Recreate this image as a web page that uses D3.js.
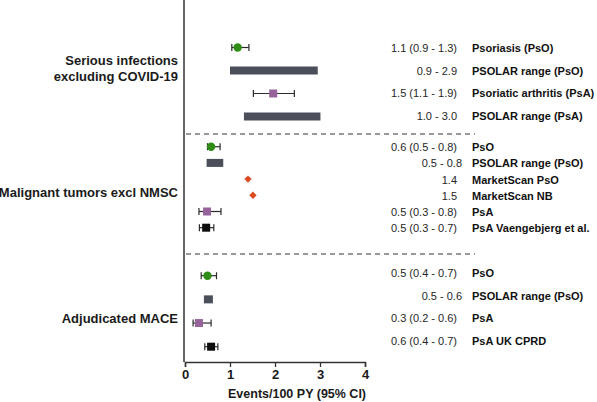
<!DOCTYPE html>
<html>
<head>
<meta charset="utf-8">
<script src="https://cdn.jsdelivr.net/npm/d3@7"></script>
<style>
  html, body { margin: 0; padding: 0; background: #fff; }
  svg { display: block; }
  text { font-family: "Liberation Sans", Arial, Helvetica, sans-serif; }
</style>
</head>
<body>
<svg id="chart" width="597" height="402"></svg>
<script>
// ---- data ----
const groupNames = [["Serious infections", "excluding COVID-19"], ["Malignant tumors excl NMSC"], ["Adjudicated MACE"]];
const rowGroup = [0, 0, 0, 0, 1, 1, 1, 1, 1, 1, 2, 2, 2, 2];
const rowLabels = [
  "Psoriasis (PsO)", "PSOLAR range (PsO)", "Psoriatic arthritis (PsA)", "PSOLAR range (PsA)",
  "PsO", "PSOLAR range (PsO)", "MarketScan PsO", "MarketScan NB", "PsA", "PsA Vaengebjerg et al.",
  "PsO", "PSOLAR range (PsO)", "PsA", "PsA UK CPRD"
];
const rowValueText = [
  "1.1 (0.9 - 1.3)", "0.9 - 2.9", "1.5 (1.1 - 1.9)", "1.0 - 3.0",
  "0.6 (0.5 - 0.8)", "0.5 - 0.8", "1.4", "1.5", "0.5 (0.3 - 0.8)", "0.5 (0.3 - 0.7)",
  "0.5 (0.4 - 0.7)", "0.5 - 0.6", "0.3 (0.2 - 0.6)", "0.6 (0.4 - 0.7)"
];
const rowType = [
  "circle", "range", "square", "range",
  "circle", "range", "diamond", "diamond", "square", "blackSquare",
  "circle", "range", "square", "blackSquare"
];
const estimate = [1.17, null, 1.96, null, 0.58, null, 1.4, 1.51, 0.49, 0.47, 0.5, null, 0.31, 0.58];
const lower    = [1.04, 1.0, 1.52, 1.31, 0.5, 0.48, null, null, 0.31, 0.32, 0.36, 0.42, 0.18, 0.44];
const upper    = [1.42, 2.95, 2.43, 3.01, 0.78, 0.85, null, null, 0.8, 0.64, 0.7, 0.62, 0.58, 0.73];
const xTicks = [0, 1, 2, 3, 4];
const xTitle = "Events/100 PY (95% CI)";

// ---- layout ----
const svg = d3.select("#chart");
const axisX = 184, axisBottom = 362;
const x = d3.scaleLinear().domain([0, 4]).range([185, 365]);
const markRanges = [[47.5, 116.5], [146.7, 227.7], [275.7, 346.7]];
const textRanges = [[48.3, 116], [147.3, 228.3], [273.3, 341]];
const separators = [134, 254];
const groupLabelY = [[60.7, 76], [192], [318.7]];

const rows = rowLabels.map((lab, i) => ({
  i, label: lab, value: rowValueText[i], group: rowGroup[i], type: rowType[i],
  est: estimate[i], lo: lower[i], hi: upper[i]
}));

const yMark = groupNames.map((g, gi) =>
  d3.scalePoint().domain(rows.filter(r => r.group === gi).map(r => r.i)).range(markRanges[gi]));
const yText = groupNames.map((g, gi) =>
  d3.scalePoint().domain(rows.filter(r => r.group === gi).map(r => r.i)).range(textRanges[gi]));
const ym = r => yMark[r.group](r.i);
const yt = r => yText[r.group](r.i);

const dark = "#2b2b2b";

// separators
svg.selectAll("line.sep").data(separators).join("line")
  .attr("x1", 186).attr("x2", 475).attr("y1", d => d).attr("y2", d => d)
  .attr("stroke", "#333").attr("stroke-width", 1.2).attr("stroke-dasharray", "5,4");

// y axis line
svg.append("line").attr("x1", axisX).attr("x2", axisX).attr("y1", 0).attr("y2", axisBottom)
  .attr("stroke", "#333").attr("stroke-width", 1.5);

// x axis
const xAxis = svg.append("g").attr("transform", `translate(0,${axisBottom})`)
  .call(d3.axisBottom(x).tickValues(xTicks).tickFormat(d3.format("d")).tickSize(5).tickPadding(3));
xAxis.select(".domain").attr("stroke", "#333").attr("stroke-width", 1.5);
xAxis.selectAll(".tick line").attr("stroke", "#333").attr("stroke-width", 1.3);
xAxis.selectAll(".tick text").attr("font-size", 13).attr("font-weight", "bold")
  .attr("fill", "#1a1a1a").attr("font-family", "Liberation Sans, Arial, sans-serif");

svg.append("text").attr("x", 228).attr("y", 394).attr("dy", "0.35em")
  .attr("font-size", 12.5).attr("font-weight", "bold").attr("fill", "#1a1a1a").text(xTitle);

// group labels
groupNames.forEach((lines, gi) => {
  lines.forEach((ln, li) => {
    svg.append("text").attr("x", 178).attr("y", groupLabelY[gi][li]).attr("dy", "0.35em")
      .attr("text-anchor", "end").attr("font-size", 13).attr("font-weight", "bold")
      .attr("fill", "#1a1a1a").text(ln);
  });
});

// range bars
svg.selectAll("rect.range").data(rows.filter(r => r.type === "range")).join("rect")
  .attr("x", r => x(r.lo)).attr("width", r => x(r.hi) - x(r.lo))
  .attr("y", r => ym(r) - 4).attr("height", 8).attr("fill", "#4b4f5a");

// error bars
const ci = rows.filter(r => r.type !== "range" && r.lo != null);
svg.selectAll("line.ci").data(ci).join("line")
  .attr("x1", r => x(r.lo)).attr("x2", r => x(r.hi)).attr("y1", ym).attr("y2", ym)
  .attr("stroke", dark).attr("stroke-width", 1.2);
svg.selectAll("line.capL").data(ci).join("line")
  .attr("x1", r => x(r.lo)).attr("x2", r => x(r.lo)).attr("y1", r => ym(r) - 3.5).attr("y2", r => ym(r) + 3.5)
  .attr("stroke", dark).attr("stroke-width", 1.2);
svg.selectAll("line.capR").data(ci).join("line")
  .attr("x1", r => x(r.hi)).attr("x2", r => x(r.hi)).attr("y1", r => ym(r) - 3.5).attr("y2", r => ym(r) + 3.5)
  .attr("stroke", dark).attr("stroke-width", 1.2);

// markers
svg.selectAll("circle.pt").data(rows.filter(r => r.type === "circle")).join("circle")
  .attr("cx", r => x(r.est)).attr("cy", ym).attr("r", 4.2).attr("fill", "#2f8c16");
svg.selectAll("rect.sq").data(rows.filter(r => r.type === "square" || r.type === "blackSquare")).join("rect")
  .attr("x", r => x(r.est) - 4).attr("y", r => ym(r) - 4).attr("width", 8).attr("height", 8)
  .attr("fill", r => r.type === "square" ? "#96649b" : "#0d0d0d");
svg.selectAll("path.dia").data(rows.filter(r => r.type === "diamond")).join("path")
  .attr("transform", r => `translate(${x(r.est)},${ym(r)}) rotate(45)`)
  .attr("d", "M-2.6,-2.6H2.6V2.6H-2.6Z").attr("fill", "#dc4b20");

// value texts
svg.selectAll("text.val").data(rows).join("text")
  .attr("x", r => (r.type === "range" && r.group > 0) ? 462 : 457)
  .attr("y", yt).attr("dy", "0.35em").attr("text-anchor", "end")
  .attr("font-size", 11).attr("fill", "#262626").text(r => r.value);

// row labels
svg.selectAll("text.lab").data(rows).join("text")
  .attr("x", 472).attr("y", yt).attr("dy", "0.35em")
  .attr("font-size", 11).attr("font-weight", "bold").attr("fill", "#111").text(r => r.label);
</script>
</body>
</html>
